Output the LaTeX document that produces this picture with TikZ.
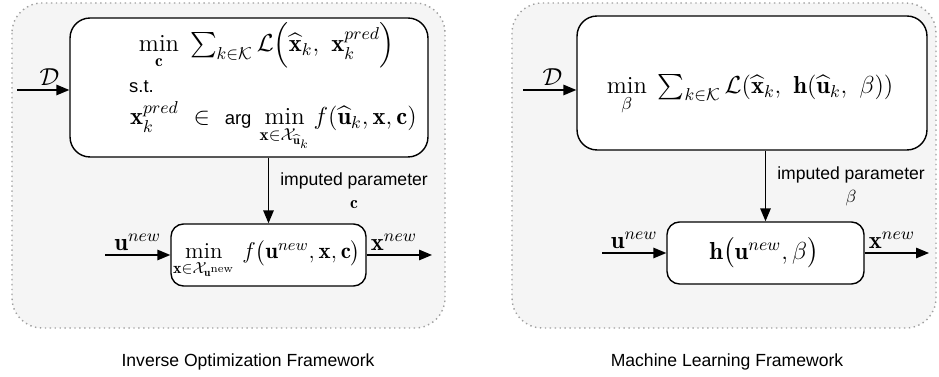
\RequirePackage{fix-cm}
\documentclass[tikz,border=0pt]{standalone}
\usepackage{amsmath}
\usepackage{fontspec}
\setsansfont{Liberation Sans}
\usetikzlibrary{arrows.meta,positioning,calc}

\newcommand\eqsize{\fontsize{14}{16}\selectfont}
\newcommand\bx{\mathbf{x}}
\newcommand\bu{\mathbf{u}}
\newcommand\argtext{\text{\fontsize{10.5}{12}\sffamily arg}}

\begin{document}
\begin{tikzpicture}[x=0.02cm,y=-0.02cm,
  >={Triangle[length=2.6mm,width=2.1mm]},font=\sffamily,
  panel/.style={draw=gray!75,dotted,line width=0.8pt,fill=cpanel,rounded corners=6mm},
  blk/.style={rectangle,draw=black,line width=0.8pt,fill=white,rounded corners=#1},
  flow/.style={->,line width=0.8pt},
  eq/.style={font=\eqsize,inner sep=1pt},
  lbl/.style={font=\eqsize,inner sep=2pt},
]
  \definecolor{cpanel}{HTML}{F5F5F5}
  \useasboundingbox (0,0) rectangle (939,377);

  % the two frameworks
  \draw[panel] (12,3) rectangle (445,328);
  \draw[panel] (512,3) rectangle (936,328);

  % inverse optimization: training problem and forward problem
  \node[blk=4mm,minimum width=7.16cm,minimum height=2.78cm] (iotop) at (249,87.5) {};
  \node[blk=2.5mm,minimum width=3.9cm,minimum height=1.24cm] (iobot) at (268.5,255) {};

  \node[eq] (ioobj) at (267,46)
    {$\min\limits_{\mathbf{c}}\;\sum_{k\in\mathcal{K}}\mathcal{L}\Big(\widehat{\bx}_k,\ \bx_k^{pred}\Big)$};
  \node[anchor=west,font=\fontsize{10.5}{12}\sffamily] (iost) at (123,87) {s.t.};
  \node[eq,anchor=west] (iocon) at (128,126)
    {$\bx_k^{pred}\ \in\ \argtext\,\min\limits_{\bx\in\mathcal{X}_{\widehat{\bu}_k}} f(\widehat{\bu}_k,\bx,\mathbf{c})$};
  \node[eq,anchor=west,font=\fontsize{13}{15}\selectfont] (iofwd) at (171,259)
    {$\min\limits_{\bx\in\mathcal{X}_{\bu^{\mathrm{new}}}}\,f\big(\bu^{new},\bx,\mathbf{c}\big)$};

  % machine learning: training problem and predictor
  \node[blk=4mm,minimum width=7.0cm,minimum height=2.68cm] (mltop) at (752,83) {};
  \node[blk=2.5mm,minimum width=3.94cm,minimum height=1.24cm] (mlbot) at (765.5,253) {};

  \node[eq] (mlobj) at (750,95)
    {$\min\limits_{\beta}\;\sum_{k\in\mathcal{K}}\mathcal{L}(\widehat{\bx}_k,\ \mathbf{h}(\widehat{\bu}_k,\ \beta))$};
  \node[eq] (mlfwd) at (764,253) {$\mathbf{h}\big(\bu^{new},\beta\big)$};

  % free ends of the connectors
  \coordinate (iod) at (17,90);
  \coordinate (iou) at (105,255);
  \coordinate (iox) at (432,255);
  \coordinate (mld) at (523,90);
  \coordinate (mlu) at (602,253);
  \coordinate (mlx) at (929,253);

  % flows
  \draw[flow] (iod) -- node[lbl,above,pos=0.62]{$\mathcal{D}$} (iod -| iotop.west);
  \draw[flow] (iobot.north |- iotop.south) -- node[right=3pt,align=center]{imputed parameter\\[1pt]$\mathbf{c}$} (iobot.north);
  \draw[flow] (iou) -- node[lbl,above]{$\bu^{new}$} (iobot.west);
  \draw[flow] (iobot.east) -- node[lbl,above right,pos=0]{$\bx^{new}$} (iox);

  \draw[flow] (mld) -- node[lbl,above,pos=0.55]{$\mathcal{D}$} (mld -| mltop.west);
  \draw[flow] (mlbot.north |- mltop.south) -- node[right=3pt,align=center]{imputed parameter\\[1pt]$\beta$} (mlbot.north);
  \draw[flow] (mlu) -- node[lbl,above]{$\bu^{new}$} (mlbot.west);
  \draw[flow] (mlbot.east) -- node[lbl,above right,pos=0]{$\bx^{new}$} (mlx);

  % captions
  \node (iocap) at (248,362) {Inverse Optimization Framework};
  \node (mlcap) at (727,362) {Machine Learning Framework};
\end{tikzpicture}
\end{document}
